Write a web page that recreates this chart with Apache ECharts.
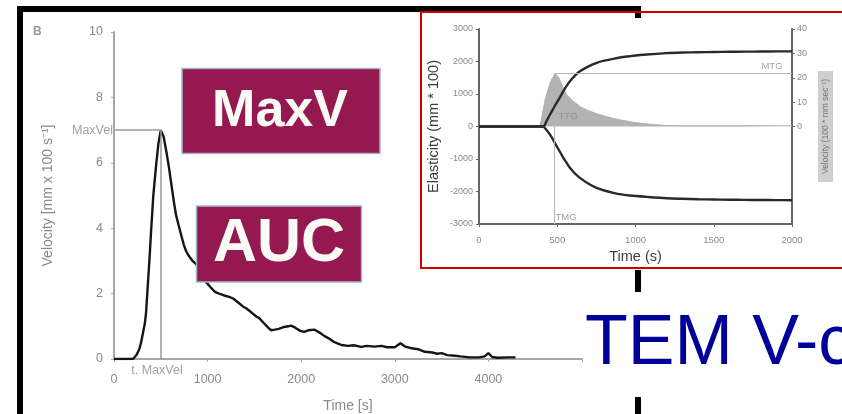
<!DOCTYPE html>
<html>
<head>
<meta charset="utf-8">
<script src="https://cdn.jsdelivr.net/npm/echarts@6/dist/echarts.min.js"></script>
<style>
html,body{margin:0;padding:0;background:#fff;}
#c{width:842px;height:414px;}
</style>
</head>
<body>
<div id="c"></div>
<script>
// ---- Left chart (B): velocity vs time ----
const velTime = [0,150,203,240,270,289,310,330,342,360,380,396,420,449,475,500,530,556,585,610,640,663,690,717,745,770,800,840,877,920,960,984,1030,1080,1123,1170,1230,1273,1330,1380,1412,1470,1520,1551,1600,1650,1679,1720,1760,1818,1860,1893,1940,1990,2032,2080,2139,2200,2250,2289,2350,2400,2428,2500,2560,2642,2700,2780,2856,2920,3000,3060,3110,3176,3250,3320,3400,3450,3500,3560,3640,3700,3800,3900,3960,4000,4040,4100,4200,4290];
const velValue = [0,0,0,0.12,0.3,0.5,0.8,1.1,1.4,2.2,3.1,3.9,5.0,5.9,6.6,7.0,6.8,6.4,5.9,5.4,4.8,4.4,4.1,3.8,3.5,3.3,3.15,3.0,2.9,2.7,2.45,2.35,2.2,2.05,2.0,1.95,1.9,1.85,1.72,1.6,1.55,1.42,1.3,1.25,1.1,0.95,0.88,0.9,0.92,0.98,1.0,1.02,0.95,0.86,0.83,0.88,0.9,0.8,0.7,0.64,0.52,0.46,0.43,0.4,0.42,0.37,0.4,0.38,0.4,0.36,0.36,0.48,0.38,0.33,0.3,0.22,0.2,0.16,0.18,0.12,0.1,0.08,0.05,0.05,0.08,0.18,0.06,0.04,0.05,0.05];
const leftXTicks = [0,1000,2000,3000,4000];
const leftYTicks = [0,2,4,6,8,10];
const tMaxVel = 500;
const maxVel = 7.0;

// ---- Inset chart: elasticity and velocity vs time ----
const elTimeUp = [0,409,430,454,475,496,520,539,560,581,610,645,700,752,800,858,910,965,1071,1199,1300,1400,1500,1600,1700,1800,1900,2000];
const elUp = [0,0,150,370,550,730,920,1086,1250,1394,1550,1702,1850,1960,2025,2083,2130,2163,2215,2257,2275,2285,2292,2298,2303,2307,2310,2313];
const elTimeDown = [0,409,430,454,475,496,520,539,560,581,610,645,700,752,800,858,910,965,1071,1199,1300,1400,1500,1600,1700,1800,1900,2000];
const elDown = [0,0,-100,-250,-420,-606,-800,-965,-1120,-1272,-1430,-1580,-1760,-1888,-1970,-2040,-2090,-2125,-2166,-2208,-2225,-2238,-2245,-2252,-2258,-2262,-2265,-2268];
const tvTime = [0,389,405,422,438,454,470,486,510,530,560,600,650,700,750,800,860,920,980,1050,1130,1200,1300,1500,1700,2000];
const tvValue = [0,0,5,10.9,14.5,17.7,20,21.8,20,17,13,10.5,8,6.5,5.3,4.3,3.3,2.5,1.8,1.2,0.7,0.4,0.3,0.3,0.3,0.3];
const insetXTicks = [0,500,1000,1500,2000];
const insetElTicks = [-3000,-2000,-1000,0,1000,2000,3000];
const insetVelTicks = [0,10,20,30,40];
const tMTG = 478;
const mtgVel = 22;

// annotation anchors (data coordinates)
const leftNotes = [{name:'MaxVel', value:[0, maxVel], pos:'left'}, {name:'t. MaxVel', value:[459, 0], pos:'bottom'}];
const insetNotes = [{name:'MTG', value:[1872, 1840]}, {name:'TTG', value:[569, 300]}, {name:'TMG', value:[556, -2800]}];

const zip = (a,b) => a.map((v,i)=>[v,b[i]]);
const FONT = '"Liberation Sans", Arial, sans-serif';

const chart = echarts.init(document.getElementById('c'), null, {renderer:'canvas'});
chart.setOption({
  animation: false,
  backgroundColor: '#fff',
  textStyle: {fontFamily: FONT},
  grid: [
    {left:114, top:32, width:468, height:327, outerBoundsMode:'none', containLabel:false},
    {left:479, top:29, width:313, height:195, outerBoundsMode:'none', containLabel:false}
  ],
  xAxis: [
    {gridIndex:0, type:'value', min:0, max:5000, interval:1000,
     axisLine:{onZero:false, lineStyle:{color:'#a8a8a8', width:2}},
     axisTick:{length:3, lineStyle:{color:'#a8a8a8'}},
     axisLabel:{color:'#8a8a8a', fontSize:12.5, margin:14, formatter: v => leftXTicks.includes(v) ? String(v) : ''},
     splitLine:{show:false},
     name:'Time [s]', nameLocation:'middle', nameGap:40, nameTextStyle:{color:'#8a8a8a', fontSize:14}},
    {gridIndex:1, type:'value', min:0, max:2000, interval:500,
     axisLine:{onZero:false, lineStyle:{color:'#666', width:2}},
     axisTick:{length:3, lineStyle:{color:'#666'}},
     axisLabel:{color:'#8a8a8a', fontSize:9.5, margin:11, formatter: v => insetXTicks.includes(v) ? String(v) : ''},
     splitLine:{show:false},
     name:'Time (s)', nameLocation:'middle', nameGap:25, nameTextStyle:{color:'#3a3a4a', fontSize:14.5}}
  ],
  yAxis: [
    {gridIndex:0, type:'value', min:0, max:10, interval:2,
     axisLine:{show:true, onZero:false, lineStyle:{color:'#a8a8a8', width:2}},
     axisTick:{show:true, length:3, lineStyle:{color:'#a8a8a8'}},
     axisLabel:{color:'#8a8a8a', fontSize:12.5, margin:11, formatter: v => leftYTicks.includes(v) ? String(v) : ''},
     splitLine:{show:false},
     name:'Velocity [mm x 100 s⁻¹]', nameLocation:'middle', nameGap:59, nameTextStyle:{color:'#8a8a8a', fontSize:14}},
    {gridIndex:1, type:'value', min:-3000, max:3000, interval:1000, position:'left',
     axisLine:{show:true, onZero:false, lineStyle:{color:'#666', width:2}},
     axisTick:{show:true, length:3, lineStyle:{color:'#666'}},
     axisLabel:{color:'#8a8a8a', fontSize:9, margin:6, formatter: v => insetElTicks.includes(v) ? String(v) : ''},
     splitLine:{show:false},
     name:'Elasticity (mm * 100)', nameLocation:'middle', nameGap:38, nameTextStyle:{color:'#3a3a3a', fontSize:14.5}},
    {gridIndex:1, type:'value', min:-40, max:40, interval:10, position:'right',
     axisLine:{show:true, onZero:false, lineStyle:{color:'#666', width:2}},
     axisTick:{show:true, length:3, customValues: insetVelTicks, lineStyle:{color:'#666'}},
     axisLabel:{color:'#8a8a8a', fontSize:9, margin:5, customValues: insetVelTicks},
     splitLine:{show:false},
     name:'Velocity (100 * mm sec⁻¹)', nameLocation:'middle', nameGap:26,
     nameTextStyle:{color:'#777', fontSize:8.5, backgroundColor:'#cfcfcf', padding:[3,8]}}
  ],
  series: [
    {type:'line', xAxisIndex:0, yAxisIndex:0, data: zip(velTime, velValue), symbol:'none',
     lineStyle:{color:'#151515', width:2.4}, z:3,
     markLine:{silent:true, symbol:'none', label:{show:false},
       lineStyle:{color:'#9a9a9a', width:1.5, type:'solid'},
       data:[
         [{coord:[0, maxVel]}, {coord:[tMaxVel, maxVel]}],
         [{coord:[tMaxVel, 0]}, {coord:[tMaxVel, maxVel]}]
       ]}},
    {type:'scatter', xAxisIndex:0, yAxisIndex:0, symbolSize:0,
     data: leftNotes.map(n => ({name:n.name, value:n.value, label:{position:n.pos, distance: n.pos === 'bottom' ? 5 : 1}})),
     label:{show:true, formatter: p => p.name, color:'#8a8a8a', fontSize:12.5}},
    {type:'line', xAxisIndex:1, yAxisIndex:2, data: zip(tvTime, tvValue), symbol:'none',
     lineStyle:{color:'#b0b0b0', width:1}, areaStyle:{color:'#b3b3b3', opacity:1}, z:2,
     markLine:{silent:true, symbol:'none', label:{show:false},
       lineStyle:{color:'#b8b8b8', width:1, type:'solid'},
       data:[[{coord:[tMTG, mtgVel]}, {coord:[2000, mtgVel]}]]}},
    {type:'line', xAxisIndex:1, yAxisIndex:1, data: zip(elTimeUp, elUp), symbol:'none', smooth:0.3,
     lineStyle:{color:'#2a2a2a', width:2.4}, z:4},
    {type:'line', xAxisIndex:1, yAxisIndex:1, data: zip(elTimeDown, elDown), symbol:'none', smooth:0.3,
     lineStyle:{color:'#2a2a2a', width:2.4}, z:4,
     markLine:{silent:true, symbol:'none', label:{show:false},
       lineStyle:{color:'#b8b8b8', width:1, type:'solid'},
       data:[[{coord:[tMTG, 0]}, {coord:[tMTG, -3000]}]]}},
    {type:'scatter', xAxisIndex:1, yAxisIndex:1, symbolSize:0, z:5,
     data: insetNotes.map(n => ({name:n.name, value:n.value})),
     label:{show:true, position:'inside', formatter: p => p.name, color:'#8a8a8a', fontSize:9.5}}
  ],
  graphic: [
    {type:'rect', z:10, shape:{x:17, y:6, width:6, height:410}, style:{fill:'#000'}},
    {type:'rect', z:10, shape:{x:17, y:6, width:624, height:6}, style:{fill:'#000'}},
    {type:'rect', z:10, shape:{x:635, y:12, width:6, height:6}, style:{fill:'#000'}},
    {type:'rect', z:10, shape:{x:635, y:270, width:6, height:22}, style:{fill:'#000'}},
    {type:'rect', z:10, shape:{x:635, y:397, width:6, height:20}, style:{fill:'#000'}},
    {type:'rect', z:11, shape:{x:421, y:12, width:440, height:256}, style:{fill:'none', stroke:'#cc0000', lineWidth:2}},
    {type:'text', z:10, left:33, top:26, style:{text:'B', fill:'#9a9a9a', font:'bold 12px ' + FONT}},
    {type:'rect', z:12, shape:{x:182, y:68.5, width:198, height:85}, style:{fill:'#951950', stroke:'#a3b8cc', lineWidth:1.5}},
    {type:'text', z:13, x:280, y:112, style:{text:'MaxV', fill:'#fbfbf5', font:'bold 52px ' + FONT, align:'center', verticalAlign:'middle'}},
    {type:'rect', z:12, shape:{x:196.5, y:206, width:165, height:76}, style:{fill:'#951950', stroke:'#a3b8cc', lineWidth:1.5}},
    {type:'text', z:13, x:279, y:244, style:{text:'AUC', fill:'#fbfbf5', font:'bold 61px ' + FONT, align:'center', verticalAlign:'middle'}},
    {type:'text', z:13, x:585, y:345, style:{text:'TEM V-c', fill:'#000099', font:'70px ' + FONT, align:'left', verticalAlign:'middle'}}
  ]
});
</script>
</body>
</html>
